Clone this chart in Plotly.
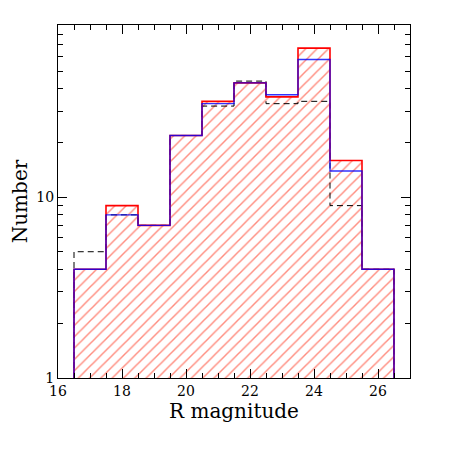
import plotly.graph_objects as go

# R magnitude bins (centres, width 1)
mag_bins = [17, 18, 19, 20, 21, 22, 23, 24, 25, 26]
bin_width = 1.0

# counts per bin
n_total = [4, 9, 7, 22, 34, 43, 36, 67, 16, 4]      # red hatched
n_blue = [4, 8, 7, 22, 33, 43, 37, 58, 14, 4]       # blue step
n_dashed = [5, 8, 7, 22, 32, 44, 33, 34, 9, 4]      # black dashed step

y_floor = 1
y_top = 90


def step_xy(centres, counts, width):
    """Outline of a histogram, closed down to the floor at both ends."""
    left = [c - width / 2 for c in centres]
    xs = [left[0]] + left + [centres[-1] + width / 2] * 2
    ys = [y_floor] + list(counts) + [counts[-1], y_floor]
    return xs, ys


fig = go.Figure()

fig.add_trace(
    go.Bar(
        x=mag_bins,
        y=n_total,
        width=bin_width,
        marker=dict(
            color="white",
            line=dict(width=0),
            pattern=dict(shape="/", fgcolor="#ff1a00", bgcolor="white", size=8, solidity=0.18),
        ),
        showlegend=False,
    )
)

for counts, color, dash, width in [
    (n_dashed, "black", "6px,4px", 1.0),
    (n_total, "#ff0000", "solid", 1.6),
    (n_blue, "#0000ff", "solid", 1.4),
]:
    xs, ys = step_xy(mag_bins, counts, bin_width)
    fig.add_trace(
        go.Scatter(
            x=xs,
            y=ys,
            mode="lines",
            line=dict(color=color, width=width, dash=dash, shape="hv"),
            opacity=0.8 if color == "#0000ff" else 1,
            showlegend=False,
            hoverinfo="skip",
        )
    )

font = dict(family="DejaVu Serif", color="black")

fig.update_xaxes(
    range=[16, 27],
    tickvals=[16, 18, 20, 22, 24, 26],
    ticks="inside",
    ticklen=9,
    tickwidth=1,
    tickcolor="black",
    minor=dict(
        tickvals=[16.5 + 0.5 * i for i in range(21)],
        ticks="inside",
        ticklen=4.5,
        tickwidth=1,
        tickcolor="black",
    ),
    showline=True,
    linecolor="black",
    linewidth=1.3,
    mirror="ticks",
    showgrid=False,
    zeroline=False,
    automargin=False,
    tickfont=dict(size=14, **font),
    title=dict(text="R magnitude", font=dict(size=20, **font), standoff=6),
)

fig.update_yaxes(
    type="log",
    range=[0, 1.954],
    tickvals=[1, 10],
    ticktext=["1", "10"],
    ticks="inside",
    ticklen=9,
    tickwidth=1,
    tickcolor="black",
    minor=dict(
        tickvals=[2, 3, 4, 5, 6, 7, 8, 9, 20, 30, 40, 50, 60, 70, 80],
        ticks="inside",
        ticklen=4.5,
        tickwidth=1,
        tickcolor="black",
    ),
    showline=True,
    linecolor="black",
    linewidth=1.3,
    mirror="ticks",
    showgrid=False,
    zeroline=False,
    automargin=False,
    tickfont=dict(size=14, **font),
    title=dict(text="Number", font=dict(size=20, **font), standoff=10),
)

# the page body adds an 8px offset, so margins are shifted to compensate
fig.update_layout(
    width=463,
    height=463,
    plot_bgcolor="white",
    paper_bgcolor="white",
    bargap=0,
    margin=dict(l=50, r=61, t=17, b=93),
)

fig.write_html("out.html")
